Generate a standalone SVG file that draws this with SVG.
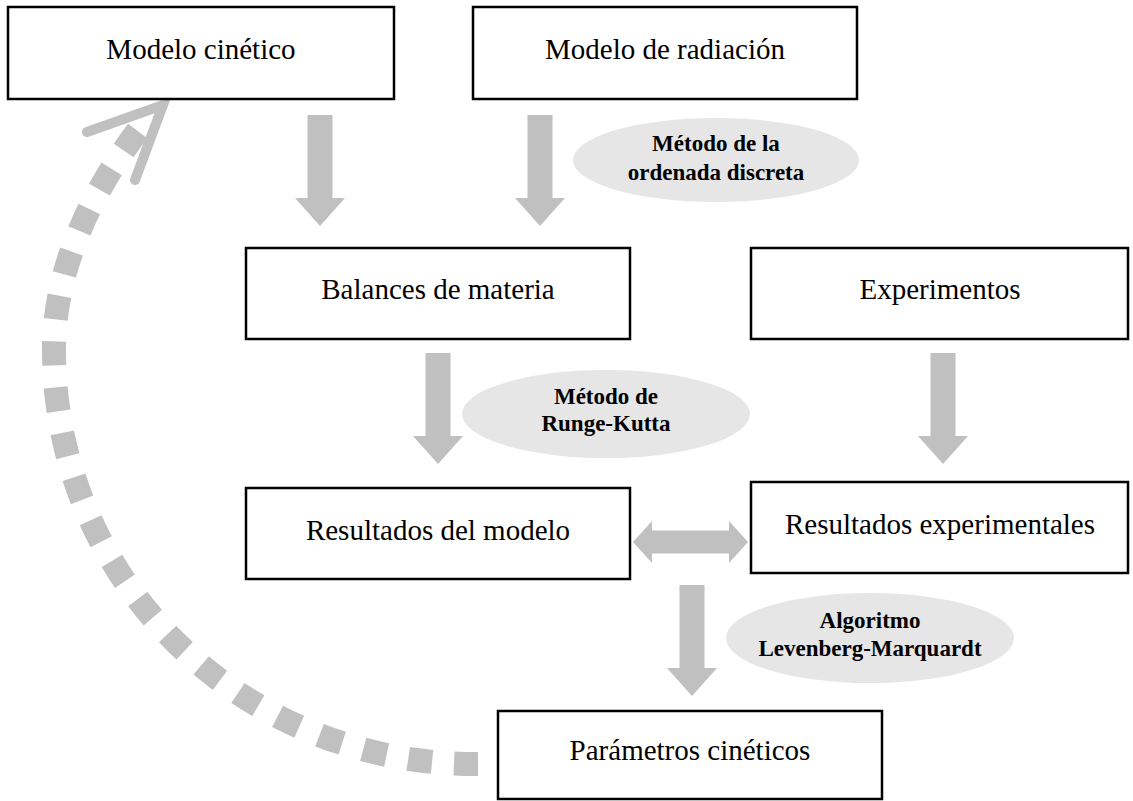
<svg xmlns="http://www.w3.org/2000/svg" xmlns:xlink="http://www.w3.org/1999/xlink" width="1133" height="801" viewBox="0 0 1133 801">
<style>
.box{fill:#fff;stroke:#000;stroke-width:2.5}
.lbl{font-family:"Liberation Serif","Times New Roman",serif;font-size:29px;fill:#000;text-anchor:middle}
.oval{fill:#e6e6e6;stroke:none}
.note{font-family:"Liberation Serif","Times New Roman",serif;font-size:23px;font-weight:bold;fill:#000;text-anchor:middle}
.arr{fill:#c0c0c0;stroke:none}
</style>
<defs>
<path id="down" d="M-12.5,0 H12.5 V83 H25 L0,111 L-25,83 H-12.5 Z"/>
</defs>
<rect width="1133" height="801" fill="#fff"/>
<g id="connectors">
<use xlink:href="#down" class="arr" x="320" y="115"/>
<use xlink:href="#down" class="arr" x="540" y="115"/>
<use xlink:href="#down" class="arr" x="438" y="353"/>
<use xlink:href="#down" class="arr" x="943" y="353"/>
<use xlink:href="#down" class="arr" x="692" y="585"/>
<path class="arr" d="M633,542 L652,521 V530.5 H729 V521 L748,542 L729,563 V553.5 H652 V563 Z"/>
<path d="M478,764 C240,765 54,579 54,350 C54,270 90,190 150,115" fill="none" stroke="#c0c0c0" stroke-width="24" stroke-dasharray="24 22"/>
<polyline points="87,132 163,105 135,180" fill="none" stroke="#c0c0c0" stroke-width="10" stroke-linecap="round" stroke-linejoin="miter"/>
</g>
<g id="modelo-cinetico">
<rect class="box" x="8" y="7" width="386" height="92"/>
<text class="lbl" x="201" y="59">Modelo cinético</text>
</g>
<g id="modelo-radiacion">
<rect class="box" x="473" y="7" width="384" height="92"/>
<text class="lbl" x="665" y="59">Modelo de radiación</text>
</g>
<g id="metodo-ordenada">
<ellipse class="oval" cx="716" cy="160" rx="143" ry="42"/>
<text class="note" x="716" y="151">Método de la</text>
<text class="note" x="716" y="180">ordenada discreta</text>
</g>
<g id="balances">
<rect class="box" x="246" y="248" width="384" height="91"/>
<text class="lbl" x="438" y="299">Balances de materia</text>
</g>
<g id="experimentos">
<rect class="box" x="751" y="248" width="377" height="91"/>
<text class="lbl" x="940" y="299">Experimentos</text>
</g>
<g id="runge-kutta">
<ellipse class="oval" cx="606" cy="414" rx="144" ry="44"/>
<text class="note" x="606" y="404">Método de</text>
<text class="note" x="606" y="431">Runge-Kutta</text>
</g>
<g id="resultados-modelo">
<rect class="box" x="246" y="488" width="384" height="91"/>
<text class="lbl" x="438" y="540">Resultados del modelo</text>
</g>
<g id="resultados-experimentales">
<rect class="box" x="751" y="482" width="377" height="91"/>
<text class="lbl" x="940" y="534">Resultados experimentales</text>
</g>
<g id="levenberg">
<ellipse class="oval" cx="870" cy="638" rx="144" ry="45"/>
<text class="note" x="870" y="628">Algoritmo</text>
<text class="note" x="870" y="656">Levenberg-Marquardt</text>
</g>
<g id="parametros">
<rect class="box" x="498" y="711" width="384" height="88"/>
<text class="lbl" x="690" y="760">Parámetros cinéticos</text>
</g>
</svg>
